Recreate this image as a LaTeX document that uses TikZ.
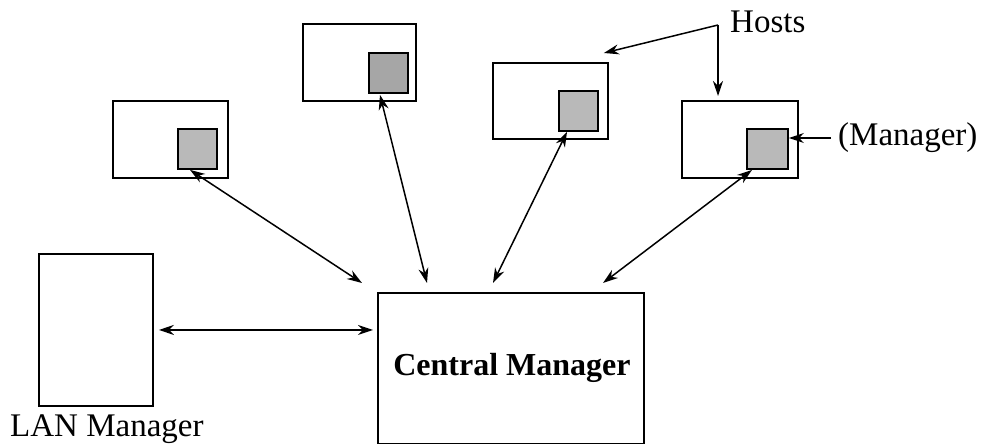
\documentclass[tikz,border=0pt]{standalone}
\usepackage{fontspec}
\setmainfont{Liberation Serif}
\usetikzlibrary{arrows.meta,calc}
\begin{document}
\begin{tikzpicture}[x=1pt,y=-1pt,
 box/.style={draw, line width=1.9pt, anchor=north west, inner sep=0pt},
 inner/.style={draw, line width=1.9pt, fill=gray!55, anchor=north west, inner sep=0pt, minimum width=39pt, minimum height=40pt},
 arr/.style={line width=1.5pt, {Stealth[length=15pt,width=10pt]}-{Stealth[length=15pt,width=10pt]}},
 one/.style={line width=1.5pt, -{Stealth[length=15pt,width=10pt]}},
 lbl/.style={font=\fontsize{33}{36}\selectfont, inner sep=0pt}]
\useasboundingbox (0,0) rectangle (987,444);
% hosts
\node[box, minimum width=115pt, minimum height=77pt] (h1) at (112,100) {};
\node[box, minimum width=113pt, minimum height=77pt] (h2) at (302,23) {};
\node[box, minimum width=115pt, minimum height=76pt] (h3) at (492,62) {};
\node[box, minimum width=116pt, minimum height=77pt] (h4) at (681,100) {};
\node[inner] (s1) at (177,128) {};
\node[inner, fill=gray!70] (s2) at (368,52) {};
\node[inner] (s3) at (558,90) {};
\node[inner, minimum width=41pt] (s4) at (746,128) {};
% managers
\node[box, minimum width=114pt, minimum height=152pt] (lan) at (38,253) {};
\node[box, minimum width=266pt, minimum height=151pt] (cm) at (377,292) {};
\node[lbl, font=\fontsize{32}{36}\selectfont\bfseries, anchor=base] (cmt) at (512,375) {Central Manager};
\node[lbl, anchor=base west] (lant) at (10,436) {LAN Manager};
\node[lbl, anchor=base west] (hosts) at (730,33) {Hosts};
\node[lbl, anchor=base west] (mgr) at (838,145) {(Manager)};
% connector end points
\coordinate (e1) at ($(s1.south west)+(13,0)$);
\coordinate (c1) at ($(cm.north west)+(-15,-9)$);
\coordinate (e2) at ($(s2.south west)+(12,1)$);
\coordinate (c2) at ($(cm.north west)+(50,-9)$);
\coordinate (e3) at ($(s3.south west)+(9,0)$);
\coordinate (c3) at ($(cm.north west)+(116,-9)$);
\coordinate (e4) at ($(s4.south west)+(6,0)$);
\coordinate (c4) at ($(cm.north west)+(226,-9)$);
\coordinate (l1) at ($(lan.east)+(5,0)$);
\coordinate (l2) at ($(cm.west |- lan.east)+(-4,0)$);
\coordinate (hc) at (718,25);
\coordinate (m1) at (831,138);
\coordinate (m2) at ($(s4.east |- m1)$);
% connectors
\draw[arr] (e1) -- (c1);
\draw[arr] (e2) -- (c2);
\draw[arr] (e3) -- (c3);
\draw[arr] (e4) -- (c4);
\draw[arr] (l1) -- (l2);
\draw[one] (hc) -- ($(h3.north east)+(-5,-9)$);
\draw[one] (hc) -- ($(hc |- h4.north)+(0,-4)$);
\draw[one] (m1) -- (m2);
\end{tikzpicture}
\end{document}
